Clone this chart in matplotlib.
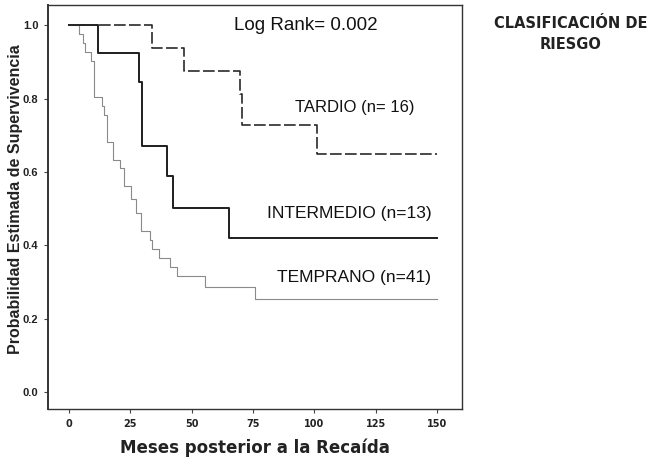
# Curvas de supervivencia Kaplan-Meier por clasificacion de riesgo
import matplotlib.pyplot as plt
import numpy as np

# datos (meses, supervivencia)
tardio_t = [0, 34, 47, 69.5, 70.7, 101, 150]
tardio_s = [1.0, 0.9375, 0.875, 0.8125, 0.729, 0.65, 0.65]

inter_t = [0, 11.6, 28.6, 29.9, 39.9, 42.2, 65.1, 150]
inter_s = [1.0, 0.923, 0.846, 0.671, 0.589, 0.503, 0.42, 0.42]

temp_t = [0, 4.1, 5.7, 6.5, 8.9, 10.2, 13.5, 14.3, 15.5, 17.8, 20.8, 22.5,
          25.2, 27.4, 29.4, 33.1, 34.0, 36.5, 41.0, 44.0, 55.4, 75.8, 150]
temp_s = [1.0, 0.976, 0.951, 0.927, 0.902, 0.805, 0.780, 0.756, 0.683, 0.634,
          0.61, 0.561, 0.527, 0.488, 0.439, 0.415, 0.390, 0.366, 0.341, 0.317,
          0.286, 0.253, 0.253]

xticks = [0, 25, 50, 75, 100, 125, 150]
yticks = [0.0, 0.2, 0.4, 0.6, 0.8, 1.0]

fig = plt.figure(figsize=(6.51, 4.65), dpi=100)
ax = fig.add_axes([0.0737, 0.1204, 0.636, 0.8688])

ax.step(temp_t, temp_s, where="post", color="#8a8a8a", linewidth=0.8)
ax.step(inter_t, inter_s, where="post", color="#1e1e1e", linewidth=1.4)
ax.step(tardio_t, tardio_s, where="post", color="#2a2a2a", linewidth=1.2,
        linestyle=(0, (7, 2)))

ax.set_xlim(-8.6, 160.2)
ax.set_ylim(-0.046, 1.055)
ax.set_xticks(xticks)
ax.set_yticks(yticks)
ax.set_xticklabels([str(v) for v in xticks], fontsize=7, fontweight="bold",
                   family="DejaVu Sans", color="#222222")
ax.set_yticklabels(["%.1f" % v for v in yticks], fontsize=8, fontweight="bold",
                   family="Liberation Sans", color="#222222")
ax.tick_params(direction="out", length=3, width=0.8, colors="#444444",
               labelcolor="#222222", pad=4)

for s in ax.spines.values():
    s.set_color("#333333")
    s.set_linewidth(1.0)
ax.spines["left"].set_linewidth(1.4)

ax.set_ylabel("Probabilidad Estimada de Supervivencia", fontsize=11.5,
              fontweight="bold", family="Liberation Sans", color="#222222")
ax.yaxis.set_label_coords(-0.06, 0.52)
ax.set_xlabel("Meses posterior a la Recaída", fontsize=12, fontweight="bold",
              family="DejaVu Sans", color="#222222", labelpad=7)

txt = dict(family="Liberation Sans", color="#111111", ha="center", va="center")
ax.text(96.6, 1.0, "Log Rank= 0.002", fontsize=13.5, **txt)
ax.text(116.5, 0.777, "TARDIO (n= 16)", fontsize=12, **txt)
ax.text(114.4, 0.488, "INTERMEDIO (n=13)", fontsize=12.5, **txt)
ax.text(116, 0.313, "TEMPRANO (n=41)", fontsize=12.5, **txt)

fig.text(0.877, 0.927, "CLASIFICACIÓN DE\nRIESGO", ha="center", va="center",
         fontsize=10.5, fontweight="bold", family="DejaVu Sans", color="#222222",
         linespacing=1.5)

fig.savefig("out.png", dpi=100)
